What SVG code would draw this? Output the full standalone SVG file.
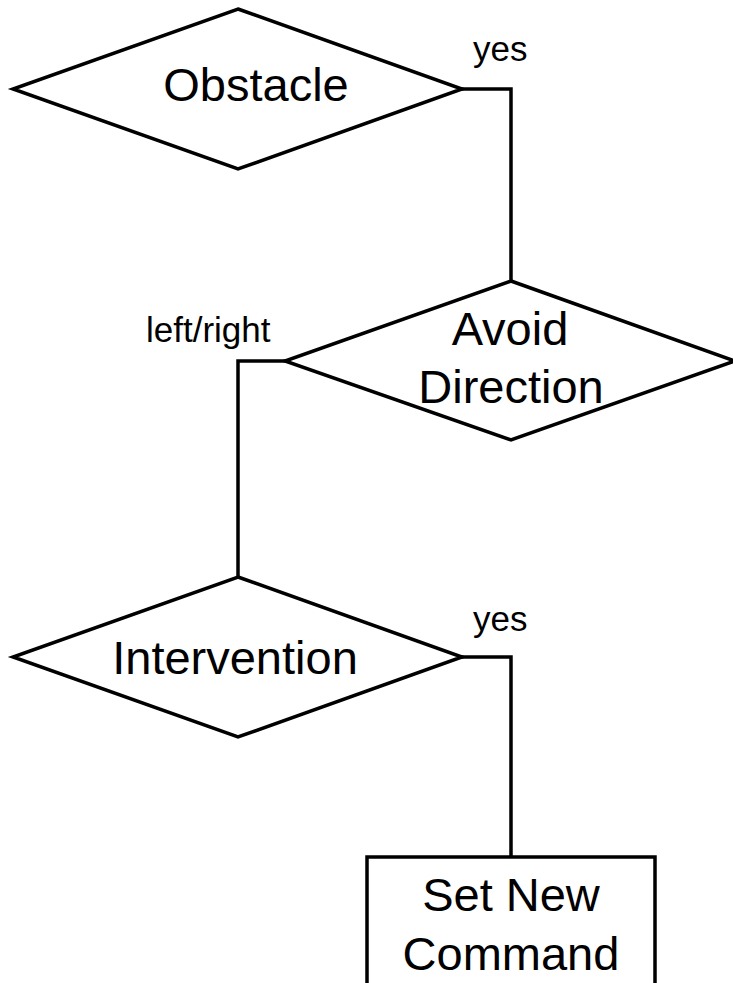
<svg xmlns="http://www.w3.org/2000/svg" width="733" height="983" viewBox="0 0 733 983">
<style>
.shape{fill:#fff;stroke:#000;stroke-width:3.5}
.conn{fill:none;stroke:#000;stroke-width:3.5}
.t{font-family:"Liberation Sans",Arial,sans-serif;font-size:47px;fill:#000;text-anchor:middle}
.lbl{font-family:"Liberation Sans",Arial,sans-serif;font-size:35px;fill:#000}
</style>
<rect width="733" height="983" fill="#fff"/>
<g id="connectors">
<polyline class="conn" points="462,89 511,89 511,281"/>
<polyline class="conn" points="285,361 238,361 238,577"/>
<polyline class="conn" points="462,657 511,657 511,857"/>
<text class="lbl" x="473" y="61">yes</text>
<text class="lbl" x="146" y="342">left/right</text>
<text class="lbl" x="473" y="631">yes</text>
</g>
<g id="obstacle">
<polygon class="shape" points="238,9 462,89 238,169 13,89"/>
<text class="t" x="256" y="101">Obstacle</text>
</g>
<g id="avoid-direction">
<polygon class="shape" points="511,281 735,361 511,440 285,361"/>
<text class="t" x="510" y="345">Avoid</text>
<text class="t" x="511" y="403">Direction</text>
</g>
<g id="intervention">
<polygon class="shape" points="238,577 462,657 238,737 13,657"/>
<text class="t" x="235" y="674">Intervention</text>
</g>
<g id="set-new-command">
<rect class="shape" x="367" y="857" width="288" height="140"/>
<text class="t" x="511" y="911">Set New</text>
<text class="t" x="511" y="970">Command</text>
</g>
</svg>
